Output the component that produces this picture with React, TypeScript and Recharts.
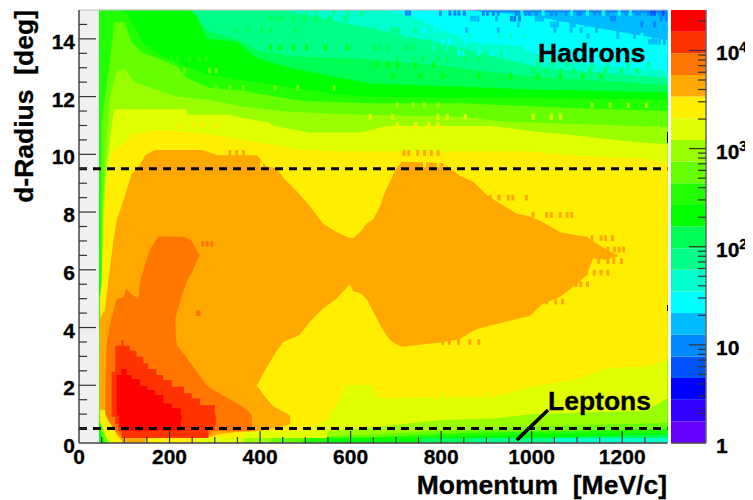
import React from "react";
import { ComposedChart, Area, XAxis, YAxis, ReferenceLine, ReferenceArea, Label } from "recharts";

// Colour palette from the colour scale, lowest to highest
const palette = ["#6600ff","#3300ff","#0000ff","#0055ff","#0088ff","#00bbff","#00ffff","#00ffcc","#00ff88","#00ff55","#00ff00","#22ff00","#66ff00","#99ff00","#e0ff00","#ffee00","#ffa800","#ff7700","#ff3300","#ff0000"];
const scaleEdges = [1,1.66,2.76,4.59,7.63,12.7,21.1,35,58.2,96.7,160.8,267,444,738,1226,2038,3387,5630,9357,15550,25850];
const scaleTicks = [1,2,3,4,5,6,7,8,9,10,20,30,40,50,60,70,80,90,100,200,300,400,500,600,700,800,900,1000,2000,3000,4000,5000,6000,7000,8000,9000,10000,20000];
const scaleMajor = [1,10,100,1000,10000];

const xTicks = [0,50,100,150,200,250,300,350,400,450,500,550,600,650,700,750,800,850,900,950,1000,1050,1100,1150,1200,1250,1300];
const yTicks = [0,0.5,1,1.5,2,2.5,3,3.5,4,4.5,5,5.5,6,6.5,7,7.5,8,8.5,9,9.5,10,10.5,11,11.5,12,12.5,13,13.5,14,14.5,15];

// Contour bands: momentum, lower and upper d-Radius of each colour region
const c5P = [45,1300];
const c5L = [0,0];
const c5H = [15,15];
const c6P = [45,1300];
const c6L = [0,0];
const c6H = [15,14.9];
const c7P = [45,850,1000,1136,1300];
const c7L = [0,0,0,0,0];
const c7H = [15,15,14.8,14.4,13.95];
const c8P = [45,680,730,864,974,1000,1136,1300];
const c8L = [0,0,0,0,0,0,0,0];
const c8H = [15,15,14.8,13.9,13.75,13.5,13.1,12.9];
const c9P = [45,455,643,842,1000,1040,1050,1300];
const c9L = [0,0,0,0,0,0,0.17,0.17];
const c9H = [15,15,14.37,13.7,13.05,12.98,12.95,12.65];
const c10P = [45,245,282,363,392,473,643,842,860,870,1000,1300];
const c10L = [0,0,0,0,0,0,0,0,0,0.17,0.17,0.17];
const c10H = [15,15,14.3,13.9,13.6,13.4,13.3,13.0,12.95,12.93,12.7,12.4];
const c11P = [45,245,260,282,350,392,473,643,750,760,1000,1300];
const c11L = [0,0,0,0,0,0,0,0,0,0.17,0.17,0.3];
const c11H = [15,15,14.8,14,13.9,13.33,12.97,12.45,12.4,12.39,12.25,12.15];
const c12P = [45,52,60,90,105,142,179,238,289,363,473,540,550,621,800,1000,1300];
const c12L = [0.5,0.1,0,0,0,0,0,0,0,0,0,0,0.17,0.17,0.2,0.3,0.35];
const c12H = [15,15,15,15,14.9,13.85,13.44,13.03,12.75,12.57,12.3,12.15,12.12,12,11.97,11.95,11.9];
const c13P = [50,58,68,78,100,116,142,179,216,238,289,363,473,490,500,643,850,1100,1300];
const c13L = [0.3,0,0,0,0,0,0,0,0,0,0,0,0,0,0.17,0.2,0.35,0.42,0.5];
const c13H = [11,12,13.2,14.58,14.58,13.9,13.5,13.3,13.05,12.65,12.3,12.2,11.9,11.87,11.85,11.77,11.77,11.6,11.5];
const c14P = [52,65,68,83,102,120,160,216,289,363,420,430,473,643,850,926,1000,1300];
const c14L = [0.4,0,0,0,0,0,0,0,0,0,0,0.17,0.17,0.3,0.45,0.5,0.55,0.7];
const c14H = [8,11.5,11.95,12.85,12.97,12.52,12.29,12,11.88,11.65,11.55,11.53,11.47,11.36,11.3,11.15,11.1,10.95];
const c15P = [46,50,54,60,68,75,79,238,240,260,333,363,365,420,430,510,547,550,621,680,800,915,1000,1100,1210,1250,1300];
const c15L = [0.8,0.6,0.5,0.2,0,0,0,0,0,0,0,0,0.17,0.17,0.17,0.17,0.17,0.41,0.5,0.6,0.8,0.85,1.0,1.05,1.1,1.1,1.55];
const c15H = [4,5,7.5,9.5,10.5,11.3,11.56,11.56,11.37,11.37,11.37,11.25,11.25,11.1,10.98,10.76,10.76,10.76,10.76,10.98,10.98,10.98,10.8,10.65,10.45,10.4,10.35];
const c16P = [46,50,55,62,70,80,100,120,180,260,262,320,363,365,490,547,575,590,650,660,915,1000,1026,1100,1165,1254,1300];
const c16L = [0.7,0.65,0.55,0.35,0.2,0,0,0,0,0,0.17,0.17,0.2,0.41,0.41,0.77,1.5,2,2,1.55,1.6,1.95,2,2.2,2.6,2.65,2.9];
const c16H = [5,5.5,8,9,9.9,10.2,10.4,10.7,10.85,10.75,10.75,10.6,10.5,10.5,10.15,10.12,10.1,10.1,10.1,10.1,10.1,10.1,10.05,9.95,9.9,9.85,9.7];
const c17P = [46,57,68,76,83,98,116,135,146,150,168,272,282,307,363,392,393,414,437,451,488,510,539,569,598,606,621,635,650,665,676,687,698,713,805,842,871,904,930,967,996,1022,1063,1099,1121,1136,1160,1190];
const c17L = [1.15,1.15,0.8,0.6,0.3,0,0,0,0,0.17,0.17,0.17,0.17,0.3,0.41,0.41,2,2.6,3.2,3.5,3.75,4.2,4.66,5,5.5,5.25,5.2,5,4.55,4.1,3.8,3.57,3.45,3.33,3.5,3.6,3.9,4.05,4.15,4.3,4.4,4.8,5.07,5.5,5.8,6.4,6.35,6.45];
const c17H = [4.3,4.6,6,7,7.7,8.4,9.3,9.65,9.97,10,10.15,10.15,10.1,9.97,9.97,9.97,9.97,9.6,9.5,9.2,8.6,8.2,7.6,7.3,7.1,7.1,7.3,7.6,7.75,8.2,8.7,9.05,9.45,9.74,9.7,9.25,9.05,8.55,8.3,7.95,7.85,7.67,7.3,7.2,7.15,6.98,6.75,6.5];
const c17bP = [350,392,414,429,466,467];
const c17bL = [0.41,0.41,0.45,0.5,0.65,0.7];
const c17bH = [3,2,1.55,1.27,0.95,0.7];
const c18P = [58,61,68,76,83,98,105,116,131,135,146,157,175,212,213,227,238,249,263,267];
const c18L = [1,0.9,0.7,0.5,0.35,0.17,0.17,0.17,0.17,0.17,0.17,0.17,0.17,0.17,4.3,5.1,5.6,5.9,6.4,6.5];
const c18H = [2,3.37,4.1,4.55,5,5.05,5.35,5.15,5,5.6,6.2,6.7,7.15,7.15,7.15,7.15,7.1,7,6.6,6.5];
const c18bP = [212,216,238,282,295,363,381,382];
const c18bL = [0.17,0.17,0.17,0.17,0.41,0.41,0.41,0.6];
const c18bH = [4,3.4,2.95,2,1.85,1.25,1,0.8];
const c19P = [72,80,87,94,98,112,127,142,153,171,186,205,232,249,267,286,300,302];
const c19L = [0.9,0.65,0.41,0.17,0.17,0.17,0.17,0.17,0.17,0.17,0.17,0.17,0.17,0.17,0.17,0.45,0.6,0.6];
const c19H = [2.47,3.37,3.37,3.57,3.37,3.2,2.99,2.76,2.56,2.36,2.18,1.95,1.72,1.55,1.32,1.32,0.97,0.97];
const c20P = [83,89,94,105,116,135,151,168,186,205,225,227];
const c20L = [0.95,0.55,0.43,0.43,0.43,0.43,0.43,0.43,0.43,0.43,0.8,0.8];
const c20H = [2.36,2.36,2.56,2.36,2.22,1.98,1.84,1.66,1.37,1.2,0.95,0.95];

const zip = (p: number[], l: number[], h: number[]) => p.map((x, i) => ({ x, band: [l[i], h[i]] }));

const mapLayers = [
  { name: "c5", level: 4, rows: zip(c5P, c5L, c5H) },
  { name: "c6", level: 5, rows: zip(c6P, c6L, c6H) },
  { name: "c7", level: 6, rows: zip(c7P, c7L, c7H) },
  { name: "c8", level: 7, rows: zip(c8P, c8L, c8H) },
  { name: "c9", level: 8, rows: zip(c9P, c9L, c9H) },
  { name: "c10", level: 9, rows: zip(c10P, c10L, c10H) },
  { name: "c11", level: 10, rows: zip(c11P, c11L, c11H) },
  { name: "c12", level: 11, rows: zip(c12P, c12L, c12H) },
  { name: "c13", level: 12, rows: zip(c13P, c13L, c13H) },
  { name: "c14", level: 13, rows: zip(c14P, c14L, c14H) },
  { name: "c15", level: 14, rows: zip(c15P, c15L, c15H) },
  { name: "c16", level: 15, rows: zip(c16P, c16L, c16H) },
  { name: "c17", level: 16, rows: zip(c17P, c17L, c17H) },
  { name: "c17b", level: 16, rows: zip(c17bP, c17bL, c17bH) },
  { name: "c18", level: 17, rows: zip(c18P, c18L, c18H) },
  { name: "c18b", level: 17, rows: zip(c18bP, c18bL, c18bH) },
  { name: "c19", level: 18, rows: zip(c19P, c19L, c19H), step: true },
  { name: "c20", level: 19, rows: zip(c20P, c20L, c20H), step: true },
];

// Fluctuating single bins: bin low edge in d-Radius, level, momenta
const binRows: { y: number; level: number; p: number[] }[] = [
  { y: 14.8, level: 4, p: [720,727,795,816,827,836,848,890,899,912,923,963,970,983,992,1007,1040,1051,1073,1099,1105,1136,1147,1165,1206,1228,1235,1254,1279,1294] },
  { y: 14.8, level: 3, p: [1261,1268,1287] },
  { y: 14.8, level: 6, p: [975,1022,1085,1120,1155,1190,1215] },
  { y: 14.6, level: 5, p: [864,871,878,919,1007,1014,1021,1055,1062,1069,1114,1132,1143,1221,1228,1250,1265] },
  { y: 14.6, level: 4, p: [952,959,970,1173,1180,1283,1294] },
  { y: 14.4, level: 5, p: [967,1040,1047,1054,1084,1091,1117,1147,1176,1183,1190,1221,1228,1235,1290] },
  { y: 14.4, level: 4, p: [1268,1240] },
  { y: 14.2, level: 5, p: [853,923,1048,1084,1106,1140,1187,1221,1246,1253,1260,1276,1298] },
  { y: 14.0, level: 5, p: [1121,1187,1224,1265,1290] },
  { y: 14.0, level: 6, p: [1011,1048,1085,1160,1240] },
  { y: 13.8, level: 5, p: [1257,1264,1271,1279,1290] },
  { y: 14.6, level: 7, p: [650,660,690,700,715,730] },
  { y: 14.2, level: 6, p: [755,762,783,797,820,827,834,864,871,878,900] },
  { y: 14.2, level: 8, p: [645,652,688,695,702,740] },
  { y: 14.0, level: 7, p: [720,745,790,830,860,925,950,980] },
  { y: 13.8, level: 6, p: [800,815,850,885,915,930,945,1000,1015] },
  { y: 13.8, level: 8, p: [665,700,730,745,770] },
  { y: 13.6, level: 7, p: [780,810,835,860,890,955,975] },
  { y: 13.6, level: 9, p: [650,660,680,720,735] },
  { y: 13.4, level: 6, p: [835,845,880,910,935,1020,1060] },
  { y: 13.4, level: 8, p: [760,775,800,830,855,895,930] },
  { y: 13.2, level: 7, p: [1000,1040,1070,1110,1180,1220] },
  { y: 13.2, level: 9, p: [700,735,755,790,810,850,880] },
  { y: 13.0, level: 8, p: [860,885,905,950,975,1010,1045,1075,1130,1165,1210,1255] },
  { y: 13.0, level: 10, p: [655,680,700,740,780] },
  { y: 12.8, level: 9, p: [1000,1030,1060,1090,1125,1160,1195,1230] },
  { y: 12.6, level: 10, p: [690,750,800,880,950,1010,1060,1110,1150] },
  { y: 14.6, level: 9, p: [420,430,445,470,495,520,550,585] },
  { y: 14.2, level: 9, p: [345,370,400,420,475] },
  { y: 14.8, level: 8, p: [500,520,560,590,620] },
  { y: 13.6, level: 10, p: [420,440,470,500,540,590] },
  { y: 13.2, level: 11, p: [200,214,240,262,278] },
  { y: 12.8, level: 12, p: [170,200,215,230,285,300] },
  { y: 12.2, level: 12, p: [240,300,330,360,430,480,560] },
  { y: 11.6, level: 13, p: [700,735,760,790,1130,1170,1210,1250] },
  { y: 11.2, level: 14, p: [640,690,790,810,850,1000,1040,1060] },
  { y: 10.9, level: 15, p: [220,250,270,300,700,740,770,790] },
  { y: 9.95, level: 16, p: [330,345,360,715,725,745,760,775,790] },
  { y: 9.55, level: 15, p: [400,415,760,790,805,830] },
  { y: 8.4, level: 16, p: [905,925,945,955,985] },
  { y: 7.8, level: 16, p: [1000,1030,1040,1060,1075,1085] },
  { y: 7.0, level: 16, p: [1130,1150,1160,1175] },
  { y: 6.6, level: 16, p: [1165,1180,1190,1200] },
  { y: 6.2, level: 16, p: [1145,1165,1178,1195] },
  { y: 5.8, level: 16, p: [1118,1135,1150,1165] },
  { y: 5.4, level: 16, p: [1075,1095,1105,1120] },
  { y: 4.8, level: 16, p: [1015,1030,1050,1065] },
  { y: 3.4, level: 16, p: [800,815,835,860,880] },
  { y: 4.4, level: 17, p: [258,262] },
  { y: 6.8, level: 17, p: [270,280,290] },
  { y: 1.6, level: 14, p: [630,640,800,900,1100,1140] },
];
const binWidth = 6.5;
const binHeight = 0.2;

const scaleBands = palette.map((color, i) => ({
  color,
  rows: [{ x: 0, band: [scaleEdges[i], scaleEdges[i + 1]] }, { x: 1, band: [scaleEdges[i], scaleEdges[i + 1]] }],
}));

const FONT = "'Liberation Sans', Arial, sans-serif";
const INK = "#333";

const XTick = (props: any) => {
  const { x, y, payload } = props;
  const v = payload.value;
  const major = v % 200 === 0;
  return (
    <g>
      {v > 0 && v < 1300 && <line x1={x} x2={x} y1={y} y2={y - (major ? 12 : 6)} stroke={INK} strokeWidth={1.2} />}
      {major && <text x={x} y={y + 21} textAnchor="middle" fontFamily={FONT} fontWeight="bold" fontSize={21} fill="#000" stroke="#000" strokeWidth={0.3}>{v}</text>}
    </g>
  );
};

const YTick = (props: any) => {
  const { x, y, payload } = props;
  const v = payload.value;
  const major = v % 2 === 0;
  return (
    <g>
      {v > 0 && v < 15 && <line x1={x} x2={x + (major ? 17 : 8)} y1={y} y2={y} stroke={INK} strokeWidth={1.2} />}
      {major && <text x={x - 4} y={y + 10} textAnchor="end" fontFamily={FONT} fontWeight="bold" fontSize={21} fill="#000" stroke="#000" strokeWidth={0.3}>{v}</text>}
    </g>
  );
};

const ScaleTick = (props: any) => {
  const { x, y, payload } = props;
  const v = payload.value;
  const major = scaleMajor.includes(v);
  const exp = Math.round(Math.log10(v));
  return (
    <g>
      {v > 1 && <line x1={x} x2={x - (major ? 17 : 8)} y1={y} y2={y} stroke={INK} strokeWidth={1.2} />}
      {major && (
        <text x={x + 10} y={y + 10} fontFamily={FONT} fontWeight="bold" fontSize={21} fill="#000" stroke="#000" strokeWidth={0.3}>
          {exp === 0 ? "1" : "10"}
          {exp > 1 && <tspan dy={-8} fontSize={14}>{exp}</tspan>}
        </text>
      )}
    </g>
  );
};

const labelStyle = { fontFamily: FONT, fontWeight: "bold", fontSize: 26.5, fill: "#000", stroke: "#000", strokeWidth: 0.3 } as const;

export default function App() {
  return (
    <div style={{ position: "relative", width: 753, height: 500, margin: "-8px 0 0 -8px", background: "#fff" }}>
      <div style={{ position: "absolute", left: 0, top: 0 }}>
        <ComposedChart width={668} height={500} margin={{ top: 10, right: 0.5, bottom: 0, left: 0 }} data={[]}>
          <ReferenceArea x1={0} x2={45} y1={0} y2={15} fill="#f0f0f0" fillOpacity={1} stroke="none" ifOverflow="hidden" />
          {mapLayers.map((layer) => (
            <Area
              key={layer.name}
              data={layer.rows}
              dataKey="band"
              type={layer.step ? "stepAfter" : "linear"}
              fill={palette[layer.level]}
              fillOpacity={1}
              stroke="none"
              dot={false}
              activeDot={false}
              isAnimationActive={false}
            />
          ))}
          {binRows.flatMap((row, r) =>
            row.p.map((p) => (
              <ReferenceArea
                key={`${r}-${p}`}
                x1={p}
                x2={Math.min(p + binWidth, 1300)}
                y1={row.y}
                y2={row.y + binHeight}
                fill={palette[row.level]}
                fillOpacity={1}
                stroke="none"
              />
            ))
          )}
          <XAxis
            type="number"
            dataKey="x"
            domain={[0, 1300]}
            ticks={xTicks}
            interval={0}
            height={57}
            tickLine={false}
            tickSize={0}
            tickMargin={0}
            tick={<XTick />}
            axisLine={{ stroke: "#444", strokeWidth: 1.5 }}
          >
            <Label content={() => <text x={667} y={494} textAnchor="end" {...labelStyle}>{"Momentum\u00a0 [MeV/c]"}</text>} />
          </XAxis>
          <YAxis
            type="number"
            domain={[0, 15]}
            ticks={yTicks}
            interval={0}
            width={79}
            tickLine={false}
            tickSize={0}
            tickMargin={0}
            tick={<YTick />}
            axisLine={{ stroke: "#444", strokeWidth: 1.5 }}
          >
            <Label content={() => <text transform="translate(33,10) rotate(-90)" textAnchor="end" {...labelStyle}>{"d-Radius\u00a0 [deg]"}</text>} />
          </YAxis>
          <ReferenceLine y={15} stroke="#bbb" strokeWidth={1} />
          <ReferenceLine y={9.5} stroke="#000" strokeWidth={3} strokeDasharray="8 6" />
          <ReferenceLine y={0.5} stroke="#000" strokeWidth={3} strokeDasharray="8 6" />
          <ReferenceLine segment={[{ x: 967, y: 0.1 }, { x: 1036, y: 1.14 }]} stroke="#000" strokeWidth={3.5} />
          <ReferenceLine segment={[{ x: 1300, y: 10.39 }, { x: 1300, y: 10.77 }]} stroke="#000" strokeWidth={1} />
          <ReferenceLine segment={[{ x: 1300, y: 4.57 }, { x: 1300, y: 4.78 }]} stroke="#000" strokeWidth={1} />
        </ComposedChart>
      </div>
      <div style={{ position: "absolute", left: 671, top: 0 }}>
        <ComposedChart width={82} height={500} margin={{ top: 10, right: 0, bottom: 0, left: 0 }} data={[]}>
          {scaleBands.map((band) => (
            <Area
              key={band.color}
              data={band.rows}
              dataKey="band"
              type="linear"
              fill={band.color}
              fillOpacity={1}
              stroke="none"
              dot={false}
              activeDot={false}
              isAnimationActive={false}
            />
          ))}
          <XAxis type="number" dataKey="x" domain={[0, 1]} height={57} tick={false} tickLine={false} axisLine={{ stroke: "#444", strokeWidth: 1.5 }} />
          <YAxis
            orientation="right"
            type="number"
            scale="log"
            domain={[1, 25850]}
            ticks={scaleTicks}
            interval={0}
            width={47}
            tickLine={false}
            tickSize={0}
            tickMargin={0}
            tick={<ScaleTick />}
            axisLine={{ stroke: "#666", strokeWidth: 1.5 }}
          />
        </ComposedChart>
      </div>
      <svg width={753} height={500} style={{ position: "absolute", left: 0, top: 0, pointerEvents: "none" }}>
        <text x={538} y={62} style={labelStyle}>Hadrons</text>
        <text x={548} y={410} style={labelStyle}>Leptons</text>
      </svg>
    </div>
  );
}
